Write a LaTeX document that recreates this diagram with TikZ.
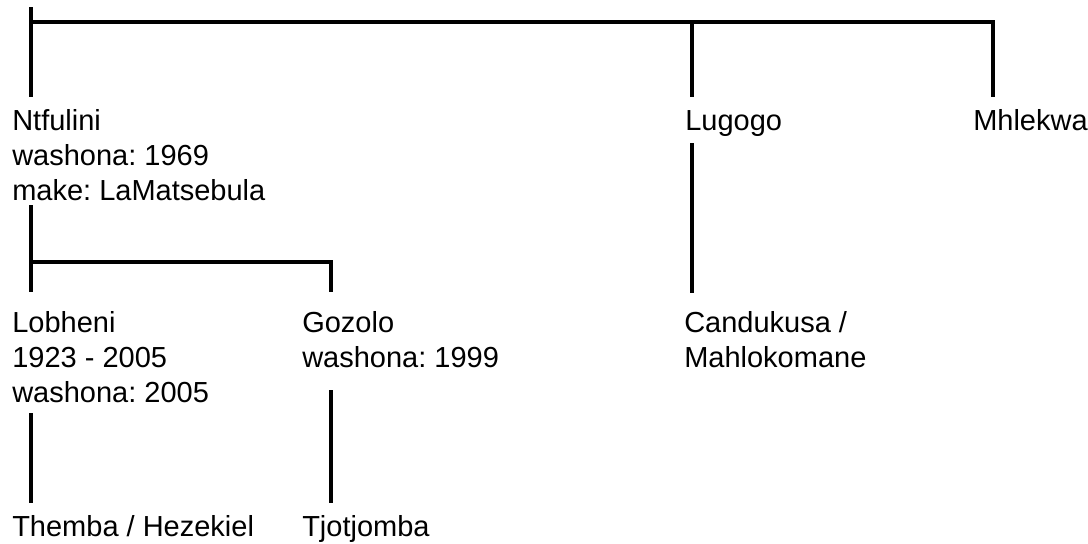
\documentclass[tikz,border=0pt]{standalone}
\usepackage{fontspec}
\setmainfont{Liberation Sans}
\frenchspacing
\begin{document}
\begin{tikzpicture}[x=0.75pt,y=-0.75pt,
  lbl/.style={anchor=base west, inner sep=0pt, align=left, font=\frenchspacing\fontsize{21.75pt}{25.9pt}\selectfont},
  ln/.style={line width=2.5pt}]
\useasboundingbox (0,0) rectangle (1088,543);
% people (anchored at the baseline of the last line)
\node[lbl] (ntf) at (12,200) {Ntfulini\\washona: 1969\\make: LaMatsebula};
\node[lbl] (lug) at (685,130) {Lugogo};
\node[lbl] (mhl) at (973,130) {Mhlekwa};
\node[lbl] (lob) at (12,402) {Lobheni\\1923 - 2005\\washona: 2005};
\node[lbl] (goz) at (302,367.5) {Gozolo\\washona: 1999};
\node[lbl] (can) at (684,367.5) {Candukusa /\\Mahlokomane};
\node[lbl] (the) at (12,536) {Themba / Hezekiel};
\node[lbl] (tjo) at (302,536) {Tjotjomba};
% junction coordinates
\coordinate (top0) at (31,7);
\coordinate (top1) at (31,22);
\coordinate (ntfT) at (31,97);
\coordinate (lugJ) at (692,22);
\coordinate (lugT) at (692,97);
\coordinate (mhlT) at (993,97);
\coordinate (mhlJ) at (993,22);
\coordinate (ntfB) at (31,205);
\coordinate (lobT) at (31,292);
\coordinate (sibJ) at (31,262);
\coordinate (gozJ) at (331,262);
\coordinate (gozT) at (331,292);
\coordinate (lugB) at (692,143);
\coordinate (canT) at (692,293);
\coordinate (lobB) at (31,413);
\coordinate (theT) at (31,503);
\coordinate (gozB) at (331,390);
\coordinate (tjoT) at (331,503);
% connectors
\draw[ln] (top0) -- (ntfT);
\draw[ln] (top1) -- (mhlJ) -- (mhlT);
\draw[ln] (lugJ) -- (lugT);
\draw[ln] (ntfB) -- (lobT);
\draw[ln] (sibJ) -- (gozJ) -- (gozT);
\draw[ln] (lugB) -- (canT);
\draw[ln] (lobB) -- (theT);
\draw[ln] (gozB) -- (tjoT);
\end{tikzpicture}
\end{document}
